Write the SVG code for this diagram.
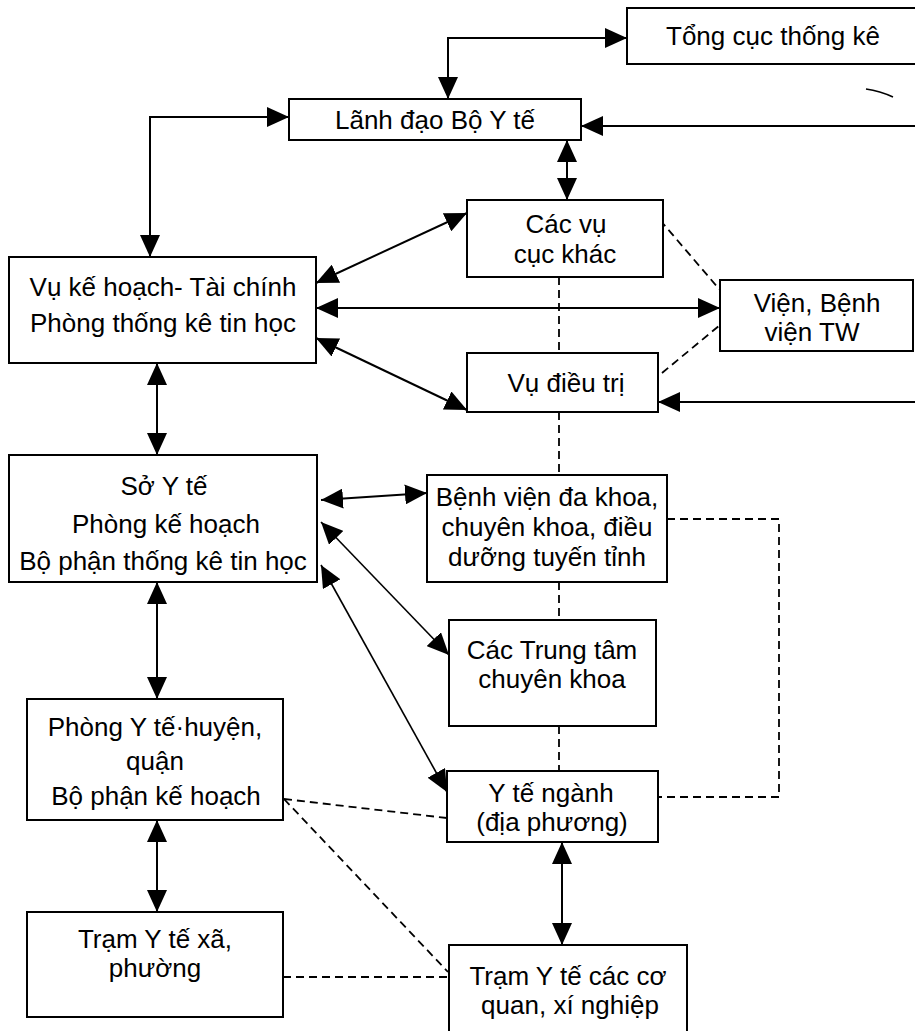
<svg xmlns="http://www.w3.org/2000/svg" width="915" height="1031" viewBox="0 0 915 1031">
<defs>
<marker id="ah" viewBox="0 0 22 20" refX="22" refY="10" markerWidth="22" markerHeight="20" markerUnits="userSpaceOnUse" orient="auto-start-reverse">
<path d="M0,0 L22,10 L0,20 z" fill="#000"/>
</marker>
<style>
.box{fill:#fff;stroke:#000;stroke-width:2}
.t{font-family:"Liberation Sans",Arial,sans-serif;font-size:26px;fill:#000;text-anchor:middle}
.c{fill:none;stroke:#000;stroke-width:2}
.thin{stroke-width:1.6}
.a{marker-end:url(#ah)}
.b{marker-start:url(#ah);marker-end:url(#ah)}
.d{fill:none;stroke:#000;stroke-width:1.8;stroke-dasharray:8 5}
</style>
</defs>
<rect width="915" height="1031" fill="#fff"/>
<g id="connectors">
<path class="c b" d="M448,99 V38 H627"/>
<path class="c a" d="M915,126 H581"/>
<path class="c b" d="M289,117 H150 V257"/>
<path class="c b" d="M567,140 V200"/>
<path class="c b" d="M316,283 L467,213"/>
<path class="c b" d="M316,308 H720"/>
<path class="c b" d="M316,338 L467,410"/>
<path class="c a" d="M915,402 H658"/>
<path class="c b" d="M157,363 V455"/>
<path class="c b" d="M321,500 L427,493"/>
<path class="c thin b" d="M321,522 L449,655"/>
<path class="c thin b" d="M321,565 L447,792"/>
<path class="c b" d="M157,582 V699"/>
<path class="c b" d="M157,820 V912"/>
<path class="c b" d="M562,842 V945"/>
<path class="d" d="M660,220 L720,290"/>
<path class="d" d="M662,373 L720,325"/>
<path class="d" d="M559,277 V353"/>
<path class="d" d="M559,412 V475"/>
<path class="d" d="M559,582 V620"/>
<path class="d" d="M559,726 V771"/>
<path class="d" d="M667,519 H779 V797 H658"/>
<path class="d" d="M284,799 L447,818"/>
<path class="d" d="M284,799 L448,972"/>
<path class="d" d="M283,977 H448"/>
<path d="M866,89 Q880,91 893,97" fill="none" stroke="#000" stroke-width="1.5"/>
</g>
<g id="tong-cuc">
<rect class="box" x="627" y="8" width="300" height="56"/>
<text class="t" x="773" y="45">Tổng cục thống kê</text>
</g>
<g id="lanh-dao">
<rect class="box" x="289" y="99" width="292" height="41"/>
<text class="t" x="435" y="129">Lãnh đạo Bộ Y tế</text>
</g>
<g id="vu-ke-hoach">
<rect class="box" x="9" y="257" width="307" height="106"/>
<text class="t" x="163" y="296">Vụ kế hoạch- Tài chính</text>
<text class="t" x="163" y="332">Phòng thống kê tin học</text>
</g>
<g id="cac-vu">
<rect class="box" x="467" y="200" width="196" height="77"/>
<text class="t" x="566" y="233">Các vụ</text>
<text class="t" x="565" y="263">cục khác</text>
</g>
<g id="vien">
<rect class="box" x="720" y="280" width="193" height="71"/>
<text class="t" x="817" y="312">Viện, Bệnh</text>
<text class="t" x="812" y="341">viện TW</text>
</g>
<g id="vu-dieu-tri">
<rect class="box" x="467" y="353" width="191" height="59"/>
<text class="t" x="566" y="392">Vụ điều trị</text>
</g>
<g id="so-y-te">
<rect class="box" x="9" y="455" width="308" height="127"/>
<text class="t" x="164" y="495">Sở Y tế</text>
<text class="t" x="166" y="533">Phòng kế hoạch</text>
<text class="t" x="163" y="570">Bộ phận thống kê tin học</text>
</g>
<g id="benh-vien">
<rect class="box" x="427" y="475" width="240" height="107"/>
<text class="t" x="547" y="506">Bệnh viện đa khoa,</text>
<text class="t" x="547" y="536">chuyên khoa, điều</text>
<text class="t" x="547" y="566">dưỡng tuyến tỉnh</text>
</g>
<g id="trung-tam">
<rect class="box" x="449" y="620" width="207" height="106"/>
<text class="t" x="552" y="659">Các Trung tâm</text>
<text class="t" x="552" y="688">chuyên khoa</text>
</g>
<g id="phong-y-te">
<rect class="box" x="27" y="699" width="256" height="121"/>
<text class="t" x="155" y="736">Phòng Y tế·huyện,</text>
<text class="t" x="155" y="770">quận</text>
<text class="t" x="156" y="805">Bộ phận kế hoạch</text>
</g>
<g id="y-te-nganh">
<rect class="box" x="447" y="771" width="211" height="71"/>
<text class="t" x="551" y="802">Y tế ngành</text>
<text class="t" x="552" y="831">(địa phương)</text>
</g>
<g id="tram-xa">
<rect class="box" x="27" y="912" width="256" height="105"/>
<text class="t" x="155" y="948">Trạm Y tế xã,</text>
<text class="t" x="155" y="977">phường</text>
</g>
<g id="tram-co-quan">
<rect class="box" x="449" y="945" width="238" height="100"/>
<text class="t" x="568" y="985">Trạm Y tế các cơ</text>
<text class="t" x="570" y="1014">quan, xí nghiệp</text>
</g>
</svg>
